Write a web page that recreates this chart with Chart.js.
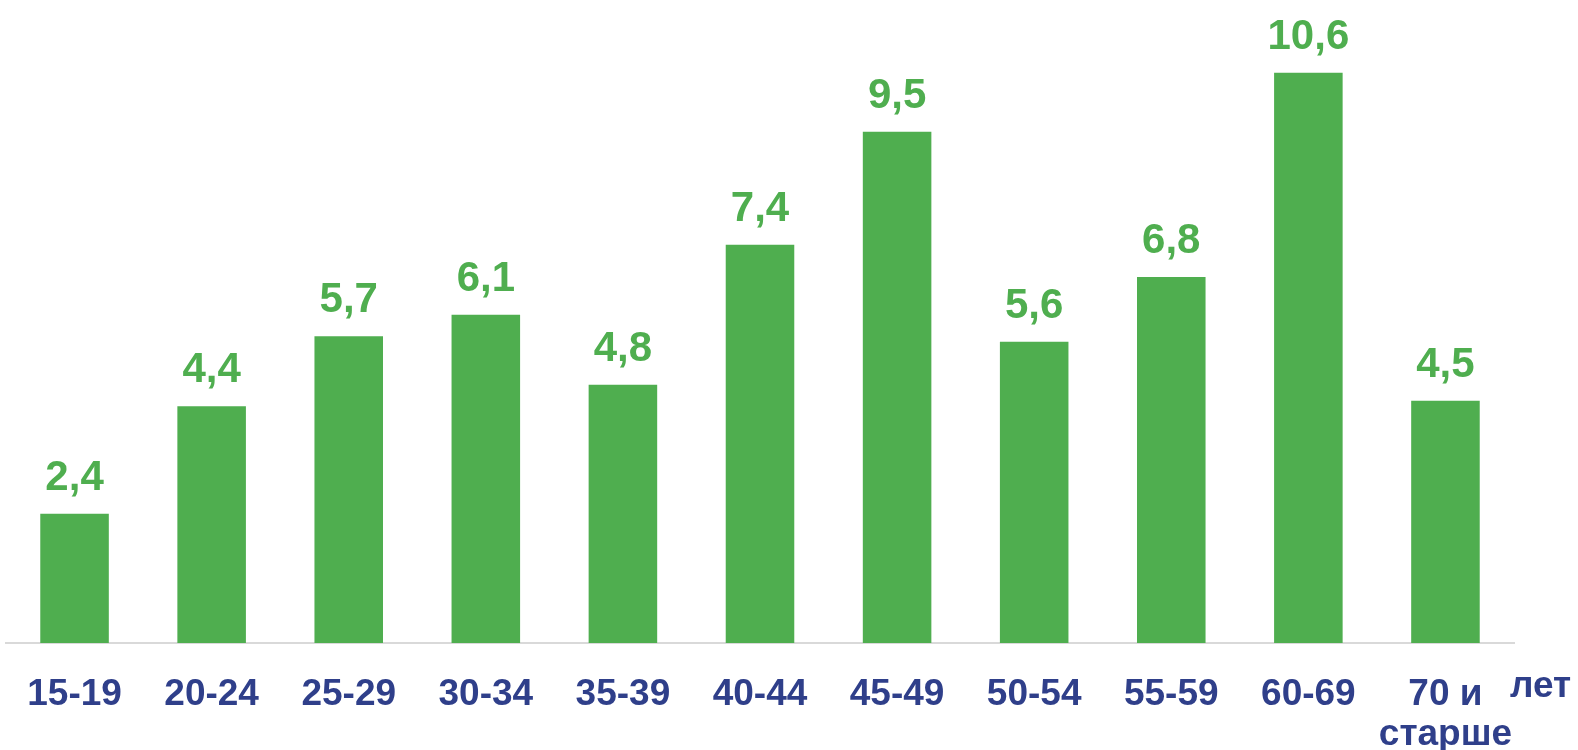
<!DOCTYPE html>
<html>
<head>
<meta charset="utf-8">
<script src="https://cdn.jsdelivr.net/npm/chart.js@4"></script>
<style>
  html, body { margin: 0; padding: 0; background: #fff; }
  #wrap { width: 1578px; height: 750px; }
</style>
</head>
<body>
<div id="wrap"><canvas id="chart" width="1578" height="750"></canvas></div>
<script>
var ageGroups = ["15-19", "20-24", "25-29", "30-34", "35-39", "40-44", "45-49", "50-54", "55-59", "60-69", ["70 и", "старше"]];
var shares = [2.4, 4.4, 5.7, 6.1, 4.8, 7.4, 9.5, 5.6, 6.8, 10.6, 4.5];
var unitLabel = "лет";

var green = "#4FAE4F";
var navy = "#2F3F8A";
var fontFamily = "'Liberation Sans', Arial, sans-serif";

// value labels above bars + "лет" next to the axis
var labelsPlugin = {
  id: "labelsPlugin",
  afterDatasetsDraw: function (chart) {
    var ctx = chart.ctx;
    var meta = chart.getDatasetMeta(0);
    ctx.save();
    ctx.fillStyle = green;
    ctx.font = "bold 42px " + fontFamily;
    ctx.textAlign = "center";
    ctx.textBaseline = "alphabetic";
    meta.data.forEach(function (bar, i) {
      ctx.fillText(String(shares[i]).replace(".", ","), bar.x, bar.y - 24);
    });
    ctx.fillStyle = navy;
    ctx.font = "bold 37px " + fontFamily;
    ctx.textAlign = "left";
    ctx.fillText(unitLabel, chart.chartArea.right - 4, 697);
    ctx.restore();
  }
};

new Chart(document.getElementById("chart"), {
  type: "bar",
  data: {
    labels: ageGroups,
    datasets: [
      {
        data: shares,
        backgroundColor: green,
        barPercentage: 0.5,
        categoryPercentage: 1,
      },
    ],
  },
  options: {
    responsive: false,
    animation: false,
    layout: {
      padding: { left: 6, right: 64, top: 0, bottom: 0 },
    },
    scales: {
      x: {
        grid: { display: false },
        border: { display: true, color: "#D9D9D9", width: 2 },
        ticks: {
          color: navy,
          font: { family: fontFamily, size: 37, weight: "bold", lineHeight: 1.1 },
          padding: 23,
          maxRotation: 0,
          autoSkip: false,
        },
        afterFit: function (scale) {
          scale.height = 107;
        },
      },
      y: {
        display: false,
        min: 0,
        max: 11.95,
      },
    },
    plugins: {
      legend: { display: false },
      tooltip: { enabled: false },
    },
  },
  plugins: [labelsPlugin],
});
</script>
</body>
</html>
